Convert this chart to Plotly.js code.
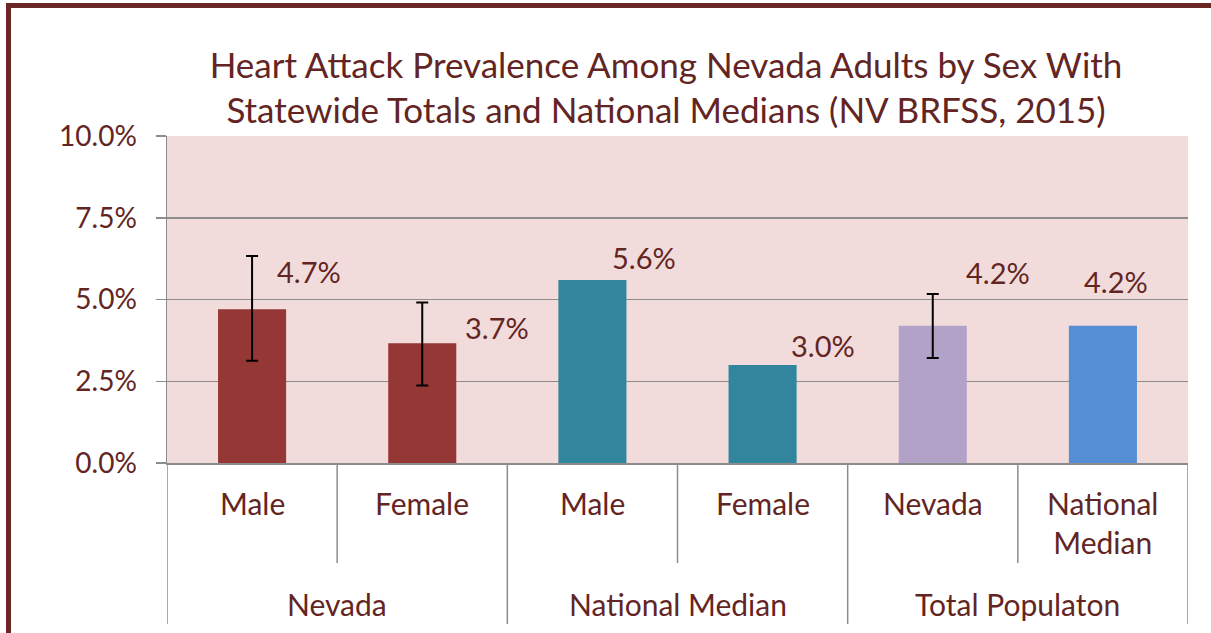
<!DOCTYPE html>
<html>
<head>
<meta charset="utf-8">
<script src="https://cdn.plot.ly/plotly-3.0.1.min.js"></script>
<style>
  html, body { margin: 0; padding: 0; background: #ffffff; overflow: hidden; }
  #chart { position: absolute; left: 0; top: 0; width: 1211px; height: 633px; }
  #frame {
    position: absolute; left: 6px; top: 3px; width: 1205px; height: 630px;
    box-sizing: border-box; border-left: 5px solid #6b2626; border-top: 5px solid #6b2626;
    pointer-events: none;
  }
</style>
</head>
<body>
<div id="chart"></div>
<div id="frame"></div>
<script>
  const groups = ["Nevada", "National Median", "Total Populaton"];
  const groupOf = [0, 0, 1, 1, 2, 2];
  const categories = ["Male", "Female", "Male", "Female", "Nevada", "National<br>Median"];
  const prevalence = [4.7, 3.66, 5.6, 3.0, 4.2, 4.2];
  const ciLower = [3.13, 2.37, null, null, 3.21, null];
  const ciUpper = [6.33, 4.91, null, null, 5.17, null];
  const yTicks = [0, 2.5, 5, 7.5, 10];

  const barColors = ["#953735", "#953735", "#31859c", "#31859c", "#b3a2c7", "#558ed5"];
  // data labels were dragged by hand in the original, keep the same offsets (px)
  const labelShift = [[57, 38], [75, 16], [52, 22], [60, 19], [65, 53], [13, 44]];

  const textColor = "#632523";
  const gridColor = "#8c8c8c";
  const font = "Lato, 'Open Sans', sans-serif";

  // plot area is 327px tall, these turn pixel drops below the axis into paper units
  const plotH = 327;
  const below = function (px) { return -px / plotH; };

  const xs = categories.map(function (_c, i) { return i; });

  const trace = {
    type: "bar",
    x: xs,
    y: prevalence,
    width: 0.4,
    marker: { color: barColors },
    error_y: {
      type: "data",
      symmetric: false,
      array: prevalence.map(function (v, i) { return ciUpper[i] === null ? NaN : ciUpper[i] - v; }),
      arrayminus: prevalence.map(function (v, i) { return ciLower[i] === null ? NaN : v - ciLower[i]; }),
      color: "#000000",
      thickness: 2,
      width: 6
    },
    hovertemplate: "%{y:.1f}%<extra></extra>"
  };

  const annotations = [];
  prevalence.forEach(function (v, i) {
    annotations.push({
      x: i, y: v, xref: "x", yref: "y",
      text: v.toFixed(1) + "%",
      showarrow: false,
      xshift: labelShift[i][0], yshift: labelShift[i][1],
      font: { family: font, size: 29, color: textColor }
    });
  });
  categories.forEach(function (c, i) {
    annotations.push({
      x: i, y: below(20), xref: "x", yref: "paper",
      text: c, showarrow: false, yanchor: "top",
      font: { family: font, size: 30, color: textColor }
    });
  });
  groups.forEach(function (g, gi) {
    const members = xs.filter(function (i) { return groupOf[i] === gi; });
    const mid = members.reduce(function (s, i) { return s + i; }, 0) / members.length;
    annotations.push({
      x: mid, y: below(141), xref: "x", yref: "paper",
      text: g, showarrow: false, yanchor: "middle",
      font: { family: font, size: 30, color: textColor }
    });
  });

  const shapes = [];
  for (let i = 0; i <= categories.length; i += 1) {
    const isGroupEdge = i === 0 || i === categories.length || groupOf[i] !== groupOf[i - 1];
    shapes.push({
      type: "line", xref: "x", yref: "paper",
      x0: i - 0.5, x1: i - 0.5, y0: 0, y1: isGroupEdge ? below(161) : below(100),
      line: { color: gridColor, width: 1.5 }
    });
  }

  const layout = {
    width: 1211,
    height: 633,
    margin: { l: 167, r: 23, t: 136, b: 170 },
    paper_bgcolor: "rgba(0,0,0,0)",
    plot_bgcolor: "#f2dcdb",
    showlegend: false,
    title: {
      text: "Heart Attack Prevalence Among Nevada Adults by Sex With<br>Statewide Totals and National Medians (NV BRFSS, 2015)",
      xref: "container", yref: "container",
      x: 0.55, y: 0.877, xanchor: "center", yanchor: "middle",
      font: { family: font, size: 35, color: textColor }
    },
    xaxis: {
      range: [-0.5, categories.length - 0.5],
      showticklabels: false,
      showgrid: false,
      zeroline: false,
      showline: true,
      linecolor: gridColor,
      linewidth: 2,
      ticks: ""
    },
    yaxis: {
      range: [0, 10],
      tickmode: "array",
      tickvals: yTicks,
      ticktext: yTicks.map(function (v) { return v.toFixed(1) + "%"; }),
      ticks: "outside",
      ticklen: 10,
      tickwidth: 1.5,
      tickcolor: gridColor,
      ticklabelstandoff: 13,
      showgrid: true,
      gridcolor: gridColor,
      gridwidth: 1.5,
      zeroline: false,
      showline: true,
      linecolor: gridColor,
      linewidth: 1.5,
      tickfont: { family: font, size: 28, color: textColor }
    },
    annotations: annotations,
    shapes: shapes
  };

  Plotly.newPlot("chart", [trace], layout, { displayModeBar: false, staticPlot: true });
</script>
</body>
</html>
